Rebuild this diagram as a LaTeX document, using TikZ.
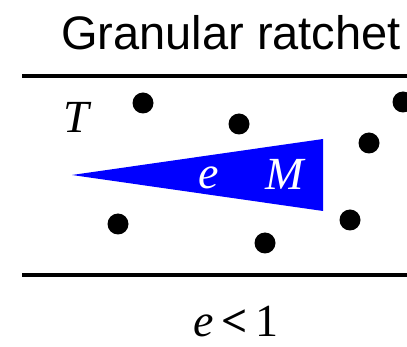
\documentclass[tikz,border=0pt]{standalone}
\usepackage{fontspec}
\setmainfont{Liberation Serif}
\newfontfamily\titlefont{Liberation Sans}
\usepackage{tikz}

\begin{document}
\begin{tikzpicture}[x=1pt,y=-1pt]
\useasboundingbox (0,0) rectangle (407,347);

\node[anchor=base,inner sep=0] (title) at (231,50) {\titlefont\fontsize{47}{50}\selectfont Granular ratchet};

\draw[line width=3.5pt] (22,76) -- (407,76);
\draw[line width=3.5pt] (22,275) -- (407,275);

\node[anchor=base,inner sep=0] (temp) at (76,133) {\fontsize{46}{48}\selectfont\itshape T};

\foreach \px/\py in {143/103, 239/124, 403/102, 369/143, 118/224, 350/220, 265/243}
  \fill (\px,\py) circle (10.5);

\fill[blue] (72,175) -- (323,139) -- (323,211) -- cycle;
\node[anchor=base,inner sep=0,white] (elast) at (209,189) {\fontsize{46}{48}\selectfont\itshape e};
\node[anchor=base,inner sep=0,white] (mass) at (285,190) {\fontsize{46}{48}\selectfont\itshape M};

\node[anchor=base,inner sep=0] (cond) at (236,337) {\fontsize{46}{48}\selectfont{\itshape e}\,\textbf{<}\,1};
\end{tikzpicture}
\end{document}
